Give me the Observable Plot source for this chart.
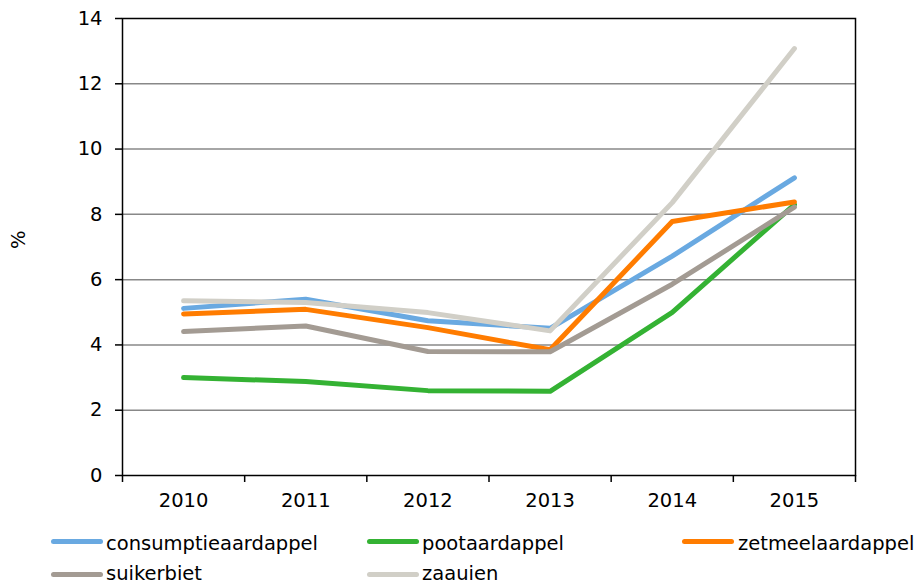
<!DOCTYPE html>
<html>
<head>
<meta charset="utf-8">
<script src="https://cdn.jsdelivr.net/npm/d3@7"></script>
<script src="https://cdn.jsdelivr.net/npm/@observablehq/plot@0.6"></script>
<style>
  html, body { margin: 0; padding: 0; background: #fff; }
  #wrap { position: relative; width: 921px; height: 588px; font-family: "DejaVu Sans", Verdana, sans-serif; }
  .sw { position: absolute; height: 5px; border-radius: 3px; }
  .lt { position: absolute; font-size: 19.5px; line-height: 1; color: #000; white-space: nowrap; }
</style>
</head>
<body>
<div id="wrap"></div>
<script>
const years = [2010, 2011, 2012, 2013, 2014, 2015];
const seriesNames = ["consumptieaardappel", "pootaardappel", "zetmeelaardappel", "suikerbiet", "zaauien"];
const consumptieaardappel = [5.12, 5.40, 4.74, 4.51, 6.72, 9.12];
const pootaardappel = [3.00, 2.88, 2.60, 2.58, 5.00, 8.30];
const zetmeelaardappel = [4.95, 5.09, 4.53, 3.85, 7.78, 8.38];
const suikerbiet = [4.41, 4.58, 3.80, 3.79, 5.86, 8.22];
const zaauien = [5.35, 5.30, 4.99, 4.43, 8.36, 13.08];
const colors = ["#69A9E1", "#34B233", "#FF7C00", "#A39B93", "#D1CFC7"];
const yTicks = [0, 2, 4, 6, 8, 10, 12, 14];
const yLabel = "%";

const valuesBySeries = [consumptieaardappel, pootaardappel, zetmeelaardappel, suikerbiet, zaauien];
const data = [];
seriesNames.forEach((s, i) => years.forEach((y, j) => data.push({series: s, year: y, value: valuesBySeries[i][j]})));
const boundaries = [...years.map(y => y - 0.5), years[years.length - 1] + 0.5];

const chart = Plot.plot({
  width: 921,
  height: 520,
  marginLeft: 122,
  marginRight: 66,
  marginTop: 18,
  marginBottom: 45,
  style: {fontFamily: "DejaVu Sans, Verdana, sans-serif", fontSize: "19.5px", color: "#000", background: "#fff"},
  x: {domain: [years[0] - 0.5, years[years.length - 1] + 0.5]},
  y: {domain: [0, 14]},
  color: {domain: seriesNames, range: colors},
  marks: [
    Plot.gridY(yTicks.filter(t => t > 0 && t < 14), {stroke: "#888", strokeOpacity: 1, strokeWidth: 1.5}),
    Plot.frame({stroke: "#000", strokeWidth: 1.5}),
    Plot.axisY(yTicks, {tickSize: 7, tickPadding: 13, stroke: "#000", strokeWidth: 1.5, label: null}),
    Plot.text([yLabel], {frameAnchor: "left", dx: -104, dy: 2, rotate: -90, fontSize: 19.5, fill: "#000"}),
    Plot.axisX(boundaries, {tickSize: 7, tickFormat: () => "", stroke: "#000", strokeWidth: 1.5, label: null}),
    Plot.axisX(years, {tickSize: 0, tickPadding: 18, tickFormat: d => String(d), label: null}),
    Plot.line(data, {x: "year", y: "value", z: "series", stroke: "series", strokeWidth: 5, strokeLinecap: "round", strokeLinejoin: "round"})
  ]
});
const wrap = document.getElementById("wrap");
wrap.appendChild(chart);

// Legend below the chart
const legendPos = [
  {sx: 51, tx: 106, row: 0},
  {sx: 367, tx: 422, row: 0},
  {sx: 682, tx: 738, row: 0},
  {sx: 51, tx: 106, row: 1},
  {sx: 367, tx: 422, row: 1}
];
const swatchY = [539, 572];
const textTop = [533.5, 564];
seriesNames.forEach((s, i) => {
  const p = legendPos[i];
  const sw = document.createElement("div");
  sw.className = "sw";
  sw.style.left = p.sx + "px";
  sw.style.width = "52px";
  sw.style.top = swatchY[p.row] + "px";
  sw.style.background = colors[i];
  wrap.appendChild(sw);
  const t = document.createElement("div");
  t.className = "lt";
  t.style.left = p.tx + "px";
  t.style.top = textTop[p.row] + "px";
  t.textContent = s;
  wrap.appendChild(t);
});
</script>
</body>
</html>
